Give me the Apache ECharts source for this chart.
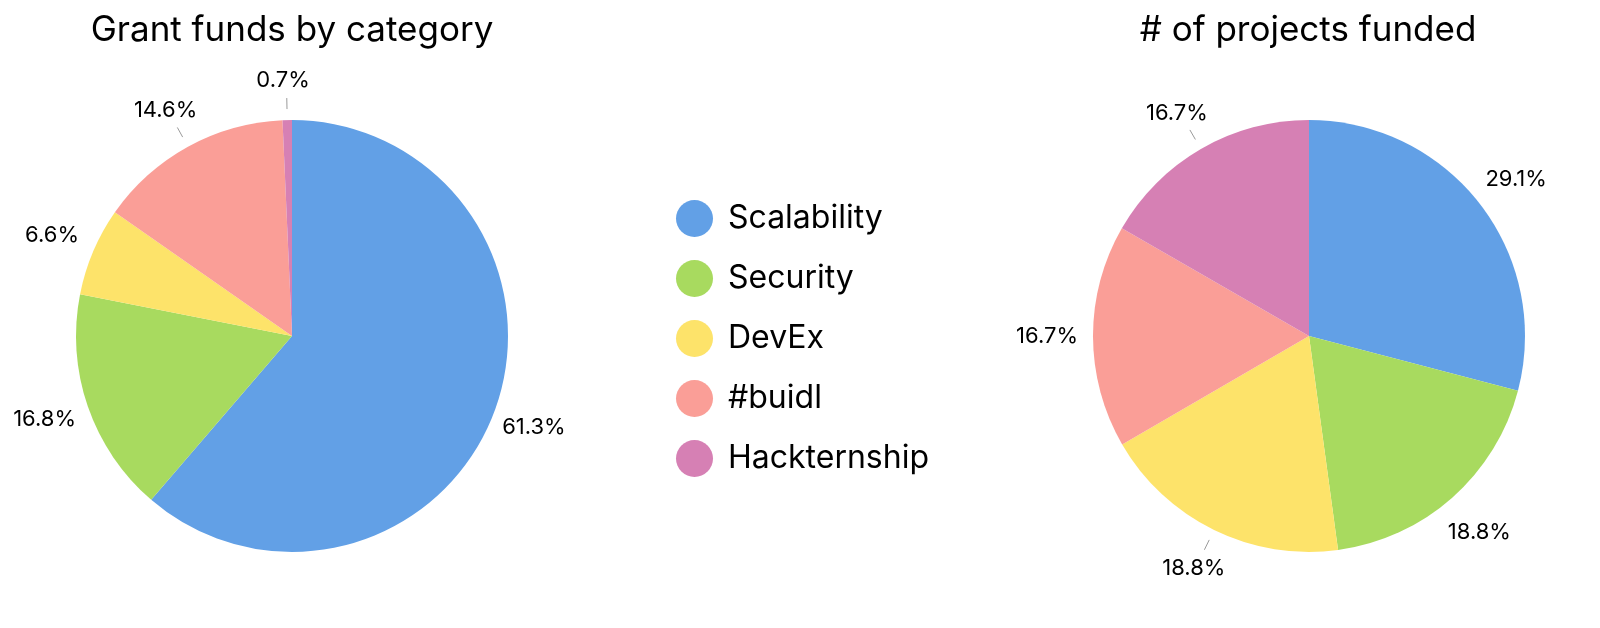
<!DOCTYPE html>
<html><head><meta charset="utf-8">
<script src="https://cdn.jsdelivr.net/npm/echarts@6/dist/echarts.min.js"></script>
<style>html,body{margin:0;padding:0;background:#fff}#c{width:1600px;height:628px}</style>
</head><body><div id="c"></div>
<script>
const categories = ['Scalability', 'Security', 'DevEx', '#buidl', 'Hackternship'];
const colors = ['#62A0E6', '#A8DA5F', '#FDE36A', '#FA9E97', '#D680B4'];
const fundsShare = [61.3, 16.8, 6.6, 14.6, 0.7];
const projectsShare = [29.1, 18.8, 18.8, 16.7, 16.7];
const titles = ['Grant funds by category', '# of projects funded'];

// label styling tweaks (offsets in px) and which slices show a leader tick
const fundsLabelNudge = [[-13, 9], [9, 6], [6, -7], [20, -17], [23, -18]];
const projectsLabelNudge = [[-12, -11], [-19, 18], [21, 19], [7, 0], [18, -17]];
const fundsTick = [false, false, false, true, true];
const projectsTick = [false, false, true, false, true];

const FONT = 'Inter';

function pie(values, ticks, nudges, cx) {
  return {
    type: 'pie',
    center: [cx, 336],
    radius: 216,
    startAngle: 90,
    clockwise: true,
    avoidLabelOverlap: false,
    animation: false,
    emphasis: { disabled: true },
    label: {
      show: true, position: 'outside',
      formatter: p => p.value.toFixed(1) + '%',
      fontFamily: FONT, fontSize: 22, color: '#000',
      distanceToLabelLine: 0
    },
    labelLine: {
      show: true, length: 22, length2: 0, smooth: false,
      lineStyle: { color: '#9a9a9a', width: 1, type: [0, 11, 11, 1000] }
    },
    data: values.map((v, i) => ({
      name: categories[i], value: v,
      itemStyle: { color: colors[i] },
      labelLine: { show: ticks[i] }
    })),
    labelLayout: p => ({
      dx: nudges[p.dataIndex][0], dy: nudges[p.dataIndex][1],
      labelLinePoints: p.labelLinePoints
    })
  };
}

const chart = echarts.init(document.getElementById('c'), null, { renderer: 'canvas' });
chart.setOption({
  backgroundColor: '#fff',
  animation: false,
  title: [
    { text: titles[0], left: 292, top: 13, padding: 0, textAlign: 'center',
      textStyle: { fontFamily: FONT, fontSize: 35, fontWeight: 'normal', color: '#000' } },
    { text: titles[1], left: 1308, top: 13, padding: 0, textAlign: 'center',
      textStyle: { fontFamily: FONT, fontSize: 35, fontWeight: 'normal', color: '#000' } }
  ],
  legend: {
    data: categories,
    orient: 'vertical',
    left: 676, top: 200, padding: 0,
    icon: 'circle',
    itemWidth: 37, itemHeight: 37, itemGap: 23,
    selectedMode: false,
    textStyle: { fontFamily: FONT, fontSize: 32, color: '#000', padding: [0, 0, 0, 10] }
  },
  series: [
    pie(fundsShare, fundsTick, fundsLabelNudge, 292),
    pie(projectsShare, projectsTick, projectsLabelNudge, 1309)
  ]
});
</script>
</body></html>
